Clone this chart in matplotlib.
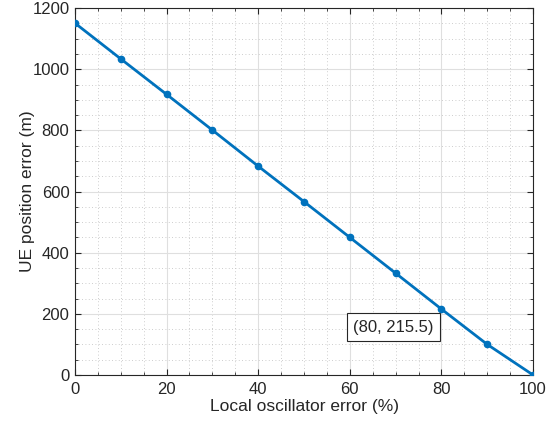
import numpy as np
import matplotlib.pyplot as plt
from matplotlib.ticker import MultipleLocator

plt.rcParams["font.family"] = ["Liberation Sans", "DejaVu Sans"]

lo_error = [0, 10, 20, 30, 40, 50, 60, 70, 80, 90, 100]
ue_error = [1151, 1034, 918, 801, 683, 567, 450, 333, 215.5, 100, 0]
tip_index = 8

fig = plt.figure(figsize=(5.57, 4.3), dpi=100)
ax = fig.add_axes([0.1346, 0.128, 0.8224, 0.853])

ax.plot(lo_error, ue_error, color="#0072BD", linewidth=2, marker="o",
        markersize=4.5, zorder=3)

ax.set_xlim(0, 100)
ax.set_ylim(0, 1200)
ax.xaxis.set_major_locator(MultipleLocator(20))
ax.xaxis.set_minor_locator(MultipleLocator(5))
ax.yaxis.set_major_locator(MultipleLocator(200))
ax.yaxis.set_minor_locator(MultipleLocator(50))

ax.grid(which="major", color="#dfdfdf", linewidth=0.8)
ax.grid(which="minor", color="#bdbdbd", linestyle=(0, (1, 3)), linewidth=0.6)
ax.set_axisbelow(True)

ax.tick_params(which="both", direction="in", top=True, right=True,
               labelsize=12, colors="#262626")
ax.tick_params(axis="x", which="major", length=4, pad=5)
ax.tick_params(axis="y", which="major", length=4, pad=4)
ax.tick_params(which="minor", length=2)
for s in ax.spines.values():
    s.set_color("#262626")
    s.set_linewidth(0.8)

ax.set_xlabel("Local oscillator error (%)", fontsize=12.5, color="#262626")
ax.set_ylabel("UE position error (m)", fontsize=12.5, color="#262626")
ax.xaxis.set_label_coords(0.5, -0.066)
ax.yaxis.set_label_coords(-0.087, 0.5)

# data tip on the 80 % point
tx, ty = lo_error[tip_index], ue_error[tip_index]
ax.annotate(f"({tx}, {ty})", xy=(tx, ty), xytext=(-5.5, -7.7),
            textcoords="offset points", ha="right", va="top", fontsize=12,
            color="#262626",
            bbox=dict(boxstyle="square,pad=0.4", fc="white", ec="#262626",
                      lw=0.8), zorder=4)

fig.savefig("out.png", dpi=100)
